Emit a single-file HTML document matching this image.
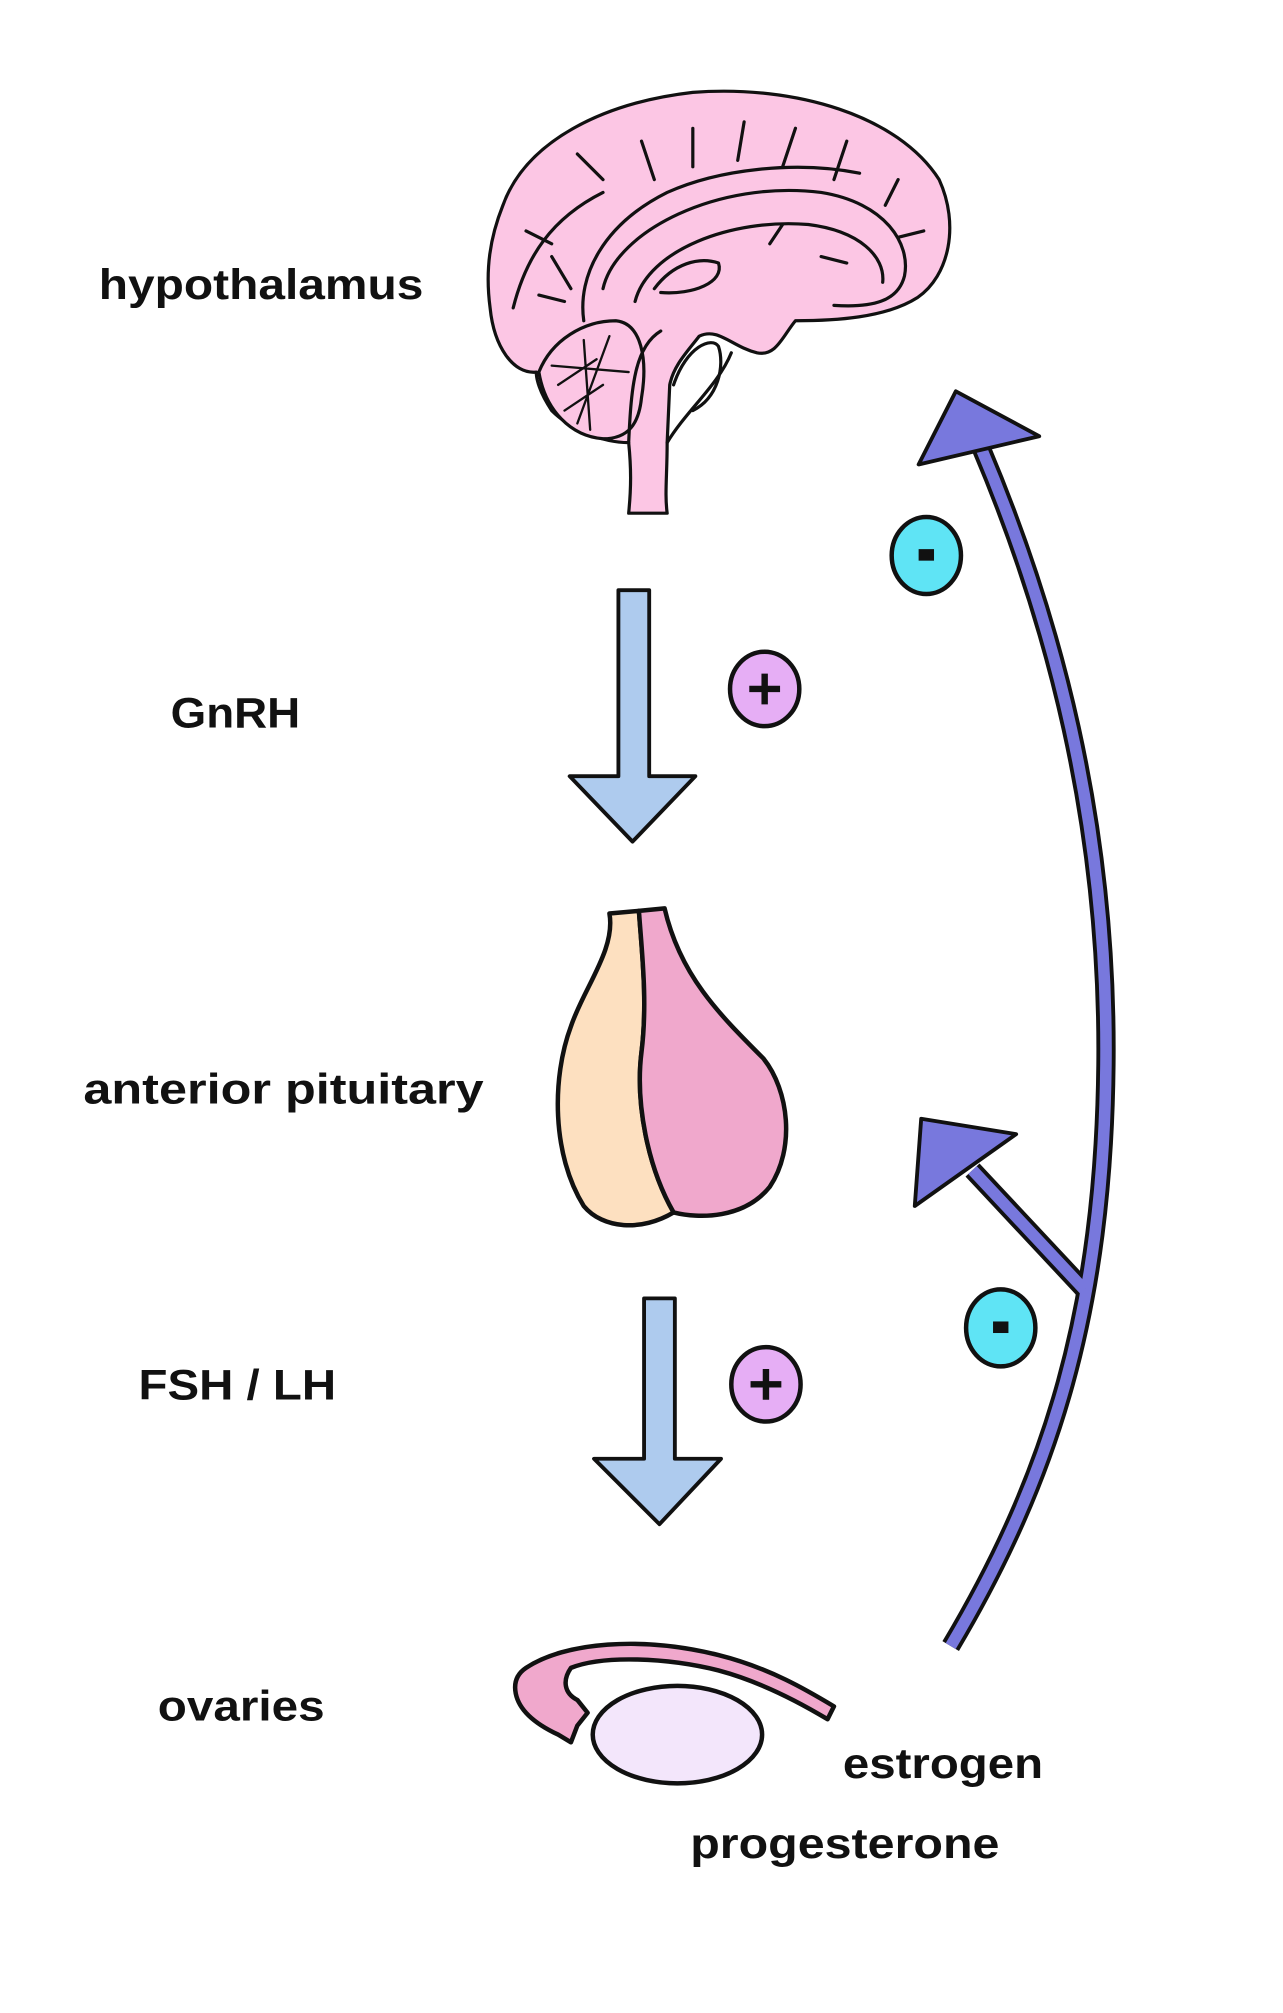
<!DOCTYPE html>
<html><head><style>
html,body{margin:0;padding:0;background:#fff;}
svg{display:block;}
text{font-family:"Liberation Sans",sans-serif;font-weight:bold;fill:#111;}
</style></head><body>
<svg width="1283" height="2013" viewBox="0 0 1000 1569" xmlns="http://www.w3.org/2000/svg">
<rect width="1000" height="1569" fill="#fff"/>
<text x="77" y="233" font-size="33" textLength="253" lengthAdjust="spacingAndGlyphs">hypothalamus</text>
<text x="133" y="567" font-size="33" textLength="101" lengthAdjust="spacingAndGlyphs">GnRH</text>
<text x="65" y="860" font-size="33" textLength="312" lengthAdjust="spacingAndGlyphs">anterior pituitary</text>
<text x="108" y="1091" font-size="33" textLength="154" lengthAdjust="spacingAndGlyphs">FSH / LH</text>
<text x="123" y="1341" font-size="33" textLength="130" lengthAdjust="spacingAndGlyphs">ovaries</text>
<text x="657" y="1386" font-size="33" textLength="156" lengthAdjust="spacingAndGlyphs">estrogen</text>
<text x="538" y="1448" font-size="33" textLength="241" lengthAdjust="spacingAndGlyphs">progesterone</text>

<!-- brain -->
<g stroke="#111" stroke-width="2.5" fill="#fcc6e4" stroke-linejoin="round" stroke-linecap="round">
<path d="M392,160 C410,110 470,80 540,72 C620,66 700,90 732,140 C748,175 740,215 715,232 C690,248 650,250 620,250 C610,262 605,278 590,275 C570,270 560,255 545,262 C535,275 525,285 522,300 L520,345 C520,370 518,385 520,400 L490,400 C492,380 492,365 490,345 C470,345 445,335 430,320 C420,305 418,295 418,290 C400,292 385,270 382,240 C378,210 382,185 392,160 Z"/>
<path d="M420,290 C430,265 455,250 480,250 C500,252 505,280 500,310 C498,330 490,342 470,342 C445,340 425,320 420,290 Z"/>
<path d="M490,345 C492,300 495,270 515,258" fill="none"/>
<path d="M520,345 C535,320 560,300 570,275" fill="none"/>
<path d="M525,300 C535,270 555,262 560,270 C565,285 560,310 540,320" fill="none"/>
<path d="M470,225 C480,180 560,140 640,150 C690,158 710,190 705,215 C700,235 680,240 650,238" fill="none"/>
<path d="M495,235 C505,195 570,170 630,175 C670,180 690,200 688,220" fill="none"/>
<path d="M510,225 C525,205 545,200 560,205 C565,220 540,230 515,228" fill="none"/>
<path d="M455,250 C450,215 470,175 520,150 C560,132 620,125 670,135" fill="none"/>
<path d="M400,240 C410,200 430,170 470,150 M430,200 L445,225 M420,230 L440,235 M500,110 L510,140 M540,100 L540,130 M580,95 L575,125 M620,100 L610,130 M660,110 L650,140 M700,140 L690,160 M720,180 L700,185 M410,180 L430,190 M450,120 L470,140 M600,190 L610,175 M660,205 L640,200" fill="none"/>
<path d="M435,300 L465,280 M440,320 L470,300 M455,265 L460,335 M475,262 L450,330 M430,285 L490,290" fill="none" stroke-width="1.8"/>
</g>

<path d="M482,460 L506,460 L506,605 L542,605 L493,656 L444,605 L482,605 Z" fill="#aecbee" stroke="#111" stroke-width="3" stroke-linejoin="round"/>
<ellipse cx="596" cy="537" rx="27" ry="29" fill="#e6aef5" stroke="#111" stroke-width="3.5"/>
<path d="M584,537 H608 M596,525 V549" stroke="#111" stroke-width="5"/>

<g stroke="#111" stroke-width="3.5" stroke-linejoin="round">
<path d="M475,712 C480,740 455,770 445,800 C430,840 430,900 455,940 C470,958 500,960 525,945 C505,910 495,860 500,820 C505,780 500,740 498,710 Z" fill="#fde0c0"/>
<path d="M498,710 C500,740 505,780 500,820 C495,860 505,910 525,945 C545,950 580,950 600,925 C620,895 615,850 595,825 C560,790 530,760 518,708 Z" fill="#f0a8cc"/>
</g>

<path d="M502,1012 L526,1012 L526,1137 L562,1137 L514,1188 L463,1137 L502,1137 Z" fill="#aecbee" stroke="#111" stroke-width="3" stroke-linejoin="round"/>
<ellipse cx="597" cy="1079" rx="27" ry="29" fill="#e6aef5" stroke="#111" stroke-width="3.5"/>
<path d="M585,1079 H609 M597,1067 V1091" stroke="#111" stroke-width="5"/>

<g stroke="#111" stroke-width="3.5" stroke-linejoin="round">
<path d="M410,1300 C440,1280 500,1275 560,1290 C600,1300 630,1318 650,1330 L645,1340 C620,1325 590,1310 560,1302 C520,1292 470,1290 445,1300 C438,1310 440,1320 450,1325 L458,1335 L450,1345 L445,1358 L435,1352 C420,1345 405,1335 402,1320 C400,1310 404,1304 410,1300 Z" fill="#f0a8cc"/>
<ellipse cx="528" cy="1352" rx="66" ry="38" fill="#f3e6fb"/>
</g>

<!-- feedback arrows -->
<g fill="none" stroke-linecap="butt">
<path d="M741,1283 C820,1150 860,1020 862,830 C864,640 820,480 765,350" stroke="#111" stroke-width="15"/>
<path d="M845,1005 L758,912" stroke="#111" stroke-width="15"/>
<path d="M741,1283 C820,1150 860,1020 862,830 C864,640 820,480 765,350" stroke="#7878dd" stroke-width="9"/>
<path d="M845,1005 L758,912" stroke="#7878dd" stroke-width="9"/>
</g>
<g fill="#7878dd" stroke="#111" stroke-width="3" stroke-linejoin="round">
<path d="M745,305 L716,362 L810,340 Z"/>
<path d="M718,872 L713,940 L792,884 Z"/>
</g>
<ellipse cx="722" cy="433" rx="27" ry="30" fill="#5fe4f5" stroke="#111" stroke-width="3.5"/>
<rect x="716" y="428" width="12" height="9" fill="#111"/>
<ellipse cx="780" cy="1035" rx="27" ry="30" fill="#5fe4f5" stroke="#111" stroke-width="3.5"/>
<rect x="774" y="1030" width="12" height="9" fill="#111"/>
</svg>
</body></html>
